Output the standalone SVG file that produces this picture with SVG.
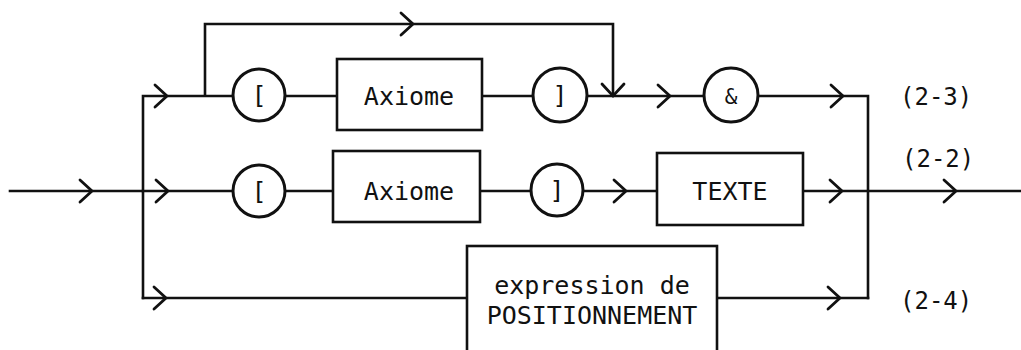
<svg xmlns="http://www.w3.org/2000/svg" width="1021" height="350" viewBox="0 0 1021 350">
<style>
.ln{fill:none;stroke:#111;stroke-width:2.6;stroke-linecap:square}
.ar{fill:none;stroke:#111;stroke-width:2.8;stroke-linecap:round;stroke-linejoin:miter}
.bx{fill:#fff;stroke:#111;stroke-width:2.6}
.ci{fill:#fff;stroke:#111;stroke-width:3}
.t{font-family:"DejaVu Sans Mono","Liberation Mono",monospace;font-size:25px;fill:#111;text-anchor:middle}
.lb{font-family:"DejaVu Sans Mono","Liberation Mono",monospace;font-size:24px;fill:#111}
</style>
<defs>
<path id="ah" d="M-12,-11 L0,0 L-12,11"/>
</defs>
<rect width="1021" height="350" fill="#fff"/>
<g id="connectors">
<path class="ln" d="M10,191 L143,191 M143,96 L143,298 M143,96 L233,96 M286,96 L337,96 M482,96 L532,96 M588,96 L704,96 M758,96 L868,96 M868,96 L868,298 M205,96 L205,24 L613,24 L613,94"/>
<path class="ln" d="M143,191 L233,191 M286,191 L333,191 M480,191 L531,191 M583,191 L657,191 M803,191 L1021,191"/>
<path class="ln" d="M143,298 L467,298 M717,298 L868,298"/>
<use href="#ah" class="ar" x="92" y="191"/>
<use href="#ah" class="ar" x="167" y="96"/>
<use href="#ah" class="ar" x="168" y="191"/>
<use href="#ah" class="ar" x="166" y="298"/>
<use href="#ah" class="ar" x="413" y="24"/>
<use href="#ah" class="ar" transform="translate(613,96) rotate(90)"/>
<use href="#ah" class="ar" x="670" y="96"/>
<use href="#ah" class="ar" x="843" y="96"/>
<use href="#ah" class="ar" x="626" y="191"/>
<use href="#ah" class="ar" x="842" y="191"/>
<use href="#ah" class="ar" x="956" y="191"/>
<use href="#ah" class="ar" x="840" y="298"/>
</g>
<g id="n_lbr1"><circle class="ci" cx="259" cy="95" r="26"/><text class="t" x="259" y="104">[</text></g>
<g id="n_axiome1"><rect class="bx" x="337" y="59" width="145" height="71"/><text class="t" x="409" y="105">Axiome</text></g>
<g id="n_rbr1"><circle class="ci" cx="560" cy="95" r="27"/><text class="t" x="560" y="104">]</text></g>
<g id="n_amp"><circle class="ci" cx="731" cy="95" r="27"/><text class="t" x="731" y="104" style="font-size:21px">&amp;</text></g>
<g id="n_lbr2"><circle class="ci" cx="259" cy="191" r="26"/><text class="t" x="259" y="200">[</text></g>
<g id="n_axiome2"><rect class="bx" x="333" y="151" width="147" height="71"/><text class="t" x="409" y="200">Axiome</text></g>
<g id="n_rbr2"><circle class="ci" cx="557" cy="190" r="26"/><text class="t" x="557" y="199">]</text></g>
<g id="n_texte"><rect class="bx" x="657" y="153" width="146" height="72"/><text class="t" x="730" y="200">TEXTE</text></g>
<g id="n_expr"><rect class="bx" x="467" y="246" width="250" height="130"/><text class="t" x="592" y="294">expression de</text><text class="t" x="592" y="324">POSITIONNEMENT</text></g>
<g id="labels">
<text class="lb" x="900" y="105">(2-3)</text>
<text class="lb" x="902" y="167">(2-2)</text>
<text class="lb" x="900" y="309">(2-4)</text>
</g>
</svg>
